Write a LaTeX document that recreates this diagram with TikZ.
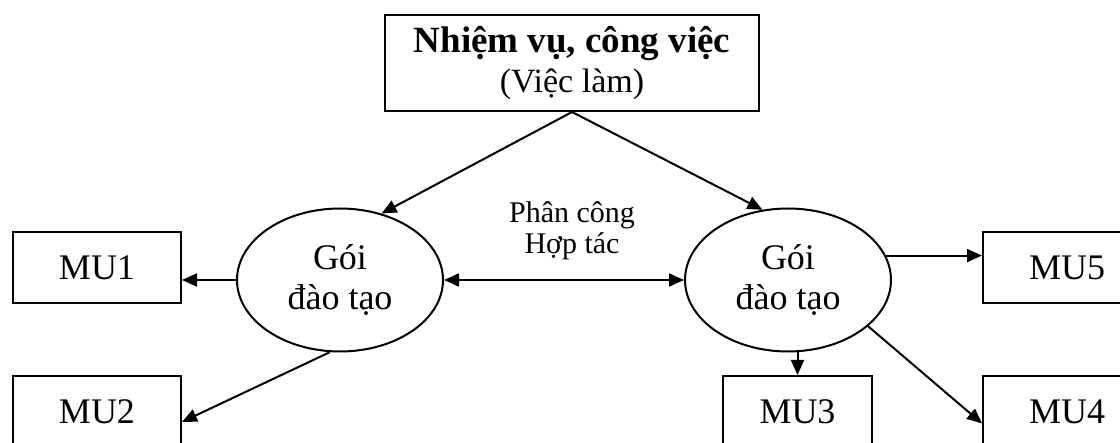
\documentclass[tikz,border=0pt]{standalone}
\usepackage{fontspec}
\setmainfont{Liberation Serif}
\usetikzlibrary{arrows.meta,positioning,shapes.geometric}

\begin{document}
\begin{tikzpicture}[
  x=1pt, y=-1pt,
  line width=2pt,
  unit/.style={draw, minimum width=168pt, minimum height=71pt, inner sep=0pt,
    font=\fontsize{36}{40}\selectfont},
  pack/.style={draw, ellipse, minimum width=206pt, minimum height=143pt,
    inner sep=0pt, align=center, font=\fontsize{36}{40}\selectfont},
  arrow/.style={-{Triangle[length=15pt,width=13pt]}},
  both/.style={{Triangle[length=15pt,width=13pt]}-{Triangle[length=15pt,width=13pt]}}
]
\useasboundingbox (0,0) rectangle (1120,443);

% Task on top
\node[draw, minimum width=374pt, minimum height=96pt, inner sep=0pt,
  align=center, font=\fontsize{34}{40}\selectfont] (task) at (572,63)
  {{\fontsize{37}{40}\selectfont\bfseries Nhiệm vụ, công việc}\\(Việc làm)};

% Training packages
\node[pack] (packl) at (340,280) {Gói\\đào tạo};
\node[pack] (packr) at (788,280) {Gói\\đào tạo};
\node[font=\fontsize{30}{31}\selectfont, align=center, inner sep=0pt]
  (share) at (572,231) {Phân công\\Hợp tác};

% Modules
\node[unit] (mu1) at (97,267.5) {MU1};
\node[unit, below=71pt of mu1] (mu2) {MU2};
\node[unit, minimum width=149pt] (mu3) at (797.5,411.5) {MU3};
\node[unit] (mu5) at (1067,267.5) {MU5};
\node[unit, below=71pt of mu5] (mu4) {MU4};

% Connectors
\draw[arrow] (task.south) -- (packl.58);
\draw[arrow] (task.south) -- (packr.110);
\draw[both] (packl.east) -- (packr.west);
\draw[arrow] (packl.west) -- (packl.west -| mu1.east);
\draw[arrow] (packl.262) -- (mu2.-7);
\draw[arrow] (packr.14) -- (packr.14 -| mu5.west);
\draw[arrow] (mu3.north |- packr.south) -- (mu3.north);
\draw[arrow] (packr.-30) -- (mu4.188);

\end{tikzpicture}
\end{document}
